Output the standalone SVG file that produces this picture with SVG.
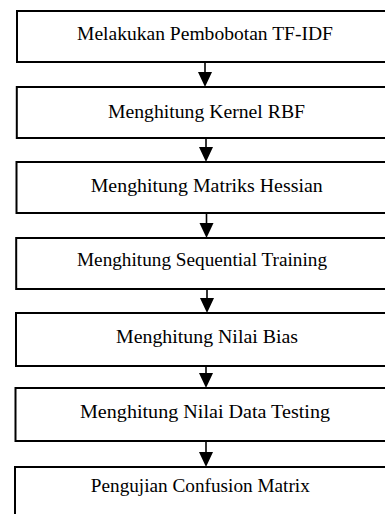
<svg xmlns="http://www.w3.org/2000/svg" width="385" height="514" viewBox="0 0 385 514">
  <style>
    .box { fill: #ffffff; stroke: #000000; stroke-width: 2; }
    .label { font-family: "Liberation Serif", "Times New Roman", serif; font-size: 18px; fill: #000000; text-anchor: middle; }
    .link { stroke: #000000; stroke-width: 1.6; fill: none; }
    .head { fill: #000000; }
  </style>
  <rect width="385" height="514" fill="#ffffff"/>

  <!-- connectors between the steps -->
  <g id="connectors">
    <line class="link" x1="205" y1="62" x2="205" y2="74"/>
    <polygon class="head" points="198,72 212,72 205,87"/>
    <line class="link" x1="206" y1="138" x2="206" y2="149"/>
    <polygon class="head" points="199,147 213,147 206,162"/>
    <line class="link" x1="206.5" y1="213" x2="206.5" y2="225"/>
    <polygon class="head" points="199.5,223 213.5,223 206.5,238"/>
    <line class="link" x1="207" y1="289" x2="207" y2="300"/>
    <polygon class="head" points="200,298 214,298 207,313"/>
    <line class="link" x1="206" y1="366" x2="206" y2="375"/>
    <polygon class="head" points="199,373 213,373 206,388"/>
    <line class="link" x1="206" y1="441" x2="206" y2="454"/>
    <polygon class="head" points="199,452 213,452 206,467"/>
  </g>

  <!-- process steps -->
  <g id="step-tfidf">
    <rect class="box" x="17" y="11" width="378" height="51"/>
    <text class="label" x="205" y="39.5" textLength="256" lengthAdjust="spacingAndGlyphs">Melakukan Pembobotan TF-IDF</text>
  </g>
  <g id="step-kernel">
    <rect class="box" x="16.8" y="87" width="378" height="51"/>
    <text class="label" x="206.5" y="118" textLength="197" lengthAdjust="spacingAndGlyphs">Menghitung Kernel RBF</text>
  </g>
  <g id="step-hessian">
    <rect class="box" x="16.5" y="162" width="378" height="51"/>
    <text class="label" x="206.7" y="191.5" textLength="232" lengthAdjust="spacingAndGlyphs">Menghitung Matriks Hessian</text>
  </g>
  <g id="step-sequential">
    <rect class="box" x="16.2" y="238" width="378" height="51"/>
    <text class="label" x="202" y="265.5" textLength="250" lengthAdjust="spacingAndGlyphs">Menghitung Sequential Training</text>
  </g>
  <g id="step-bias">
    <rect class="box" x="16" y="313" width="378" height="53"/>
    <text class="label" x="207" y="343" textLength="182" lengthAdjust="spacingAndGlyphs">Menghitung Nilai Bias</text>
  </g>
  <g id="step-testing">
    <rect class="box" x="15.5" y="388" width="378" height="53"/>
    <text class="label" x="205" y="418" textLength="250" lengthAdjust="spacingAndGlyphs">Menghitung Nilai Data Testing</text>
  </g>
  <g id="step-confusion">
    <rect class="box" x="15" y="467" width="378" height="60"/>
    <text class="label" x="200.3" y="492" textLength="219" lengthAdjust="spacingAndGlyphs">Pengujian Confusion Matrix</text>
  </g>
</svg>
